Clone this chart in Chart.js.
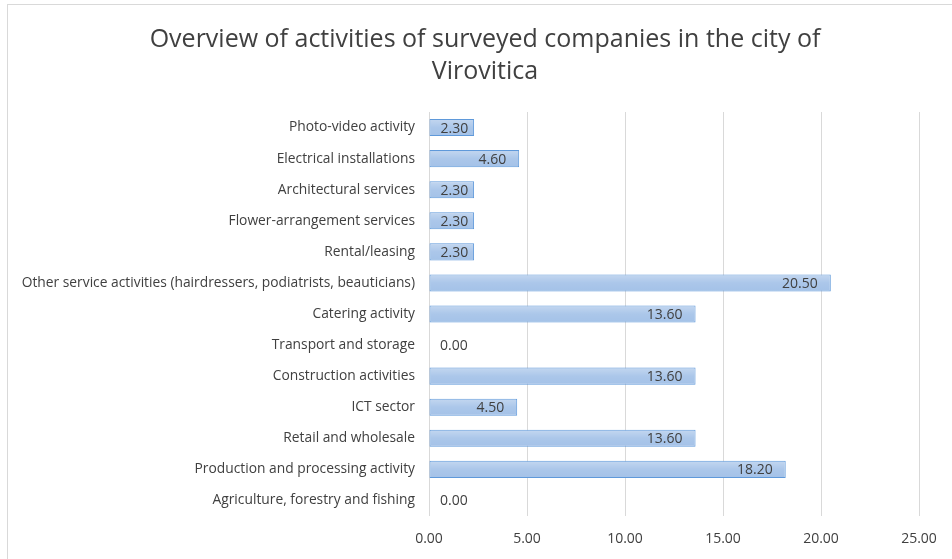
<!DOCTYPE html>
<html>
<head>
<meta charset="utf-8">
<script src="https://cdn.jsdelivr.net/npm/chart.js@4.4.1/dist/chart.umd.min.js"></script>
<style>
  html, body { margin: 0; padding: 0; background: #fff; }
  #wrap { position: relative; width: 952px; height: 559px; overflow: hidden; }
  #frame { position: absolute; left: 7px; top: 4px; width: 980px; height: 600px; border: 1px solid #d9d9d9; }
  #chart-activities { position: absolute; left: 0; top: 0; }
</style>
</head>
<body>
<div id="wrap">
  <div id="frame"></div>
  <canvas id="chart-activities" width="952" height="559"></canvas>
</div>
<script>
// kategorije od vrha prema dnu
const activities = [
  'Photo-video activity',
  'Electrical installations',
  'Architectural services',
  'Flower-arrangement services',
  'Rental/leasing',
  'Other service activities (hairdressers, podiatrists, beauticians)',
  'Catering activity',
  'Transport and storage',
  'Construction activities',
  'ICT sector',
  'Retail and wholesale',
  'Production and processing activity',
  'Agriculture, forestry and fishing'
];

const shares = [2.3, 4.6, 2.3, 2.3, 2.3, 20.5, 13.6, 0, 13.6, 4.5, 13.6, 18.2, 0];

const xTicks = [0, 5, 10, 15, 20, 25];

const titleLines = ['Overview of activities of surveyed companies in the city of', 'Virovitica'];

const labelFont = '14px "Open Sans"';

// naslov (centriran kao u Excelu, malo desno od sredine)
const chartTitle = {
  id: 'chartTitle',
  afterDraw(chart) {
    const ctx = chart.ctx;
    ctx.save();
    ctx.font = '25px "Open Sans"';
    ctx.fillStyle = '#404040';
    ctx.textAlign = 'center';
    ctx.textBaseline = 'middle';
    titleLines.forEach((line, i) => ctx.fillText(line, 485, 40 + i * 32));
    ctx.restore();
  }
};

// svjetliji gornji dio trake + oznake vrijednosti
const barLabels = {
  id: 'barLabels',
  afterDatasetsDraw(chart) {
    const ctx = chart.ctx;
    const meta = chart.getDatasetMeta(0);
    ctx.save();
    meta.data.forEach((bar, i) => {
      const h = bar.height;
      const left = Math.min(bar.base, bar.x);
      const w = Math.abs(bar.x - bar.base);
      if (w > 2) {
        const g = ctx.createLinearGradient(0, bar.y - h / 2, 0, bar.y + h / 2);
        g.addColorStop(0, 'rgba(255,255,255,0.35)');
        g.addColorStop(0.5, 'rgba(255,255,255,0.08)');
        g.addColorStop(1, 'rgba(255,255,255,0)');
        ctx.fillStyle = g;
        ctx.fillRect(left + 1, bar.y - h / 2 + 1, w - 2, h - 2);
      }
      const text = shares[i].toFixed(2);
      ctx.font = labelFont;
      const tw = ctx.measureText(text).width;
      const x = Math.max(bar.base + 11, bar.x - 13 - tw);
      ctx.fillStyle = '#404040';
      ctx.textAlign = 'left';
      ctx.textBaseline = 'middle';
      ctx.fillText(text, x, bar.y + 1);
    });
    ctx.restore();
  }
};

const ctx = document.getElementById('chart-activities').getContext('2d');
const chartActivities = new Chart(ctx, {
  type: 'bar',
  data: {
    labels: activities,
    datasets: [{
      label: 'Share',
      data: shares,
      backgroundColor: '#a4c2e8',
      borderColor: '#5f99da',
      borderWidth: 1,
      borderSkipped: false,
      barPercentage: 0.55,
      categoryPercentage: 1
    }]
  },
  options: {
    indexAxis: 'y',
    responsive: false,
    animation: false,
    layout: {
      padding: { left: 8, right: 33, top: 112, bottom: 0 }
    },
    scales: {
      x: {
        min: 0,
        max: 25,
        afterBuildTicks: (axis) => { axis.ticks = xTicks.map(v => ({ value: v })); },
        afterFit: (axis) => { axis.height = 43; },
        grid: { color: '#d9d9d9', drawTicks: false },
        border: { display: false },
        ticks: {
          padding: 15,
          color: '#404040',
          font: { family: 'Open Sans', size: 14 },
          callback: (v) => Number(v).toFixed(2)
        }
      },
      y: {
        afterFit: (axis) => { axis.width = 421; },
        grid: { display: false },
        border: { display: false },
        ticks: {
          padding: 6,
          color: '#404040',
          autoSkip: false,
          font: { family: 'Open Sans', size: 13.8 }
        }
      }
    },
    plugins: {
      legend: { display: false },
      tooltip: { enabled: false },
      title: { display: false }
    }
  },
  plugins: [barLabels, chartTitle]
});
</script>
</body>
</html>
